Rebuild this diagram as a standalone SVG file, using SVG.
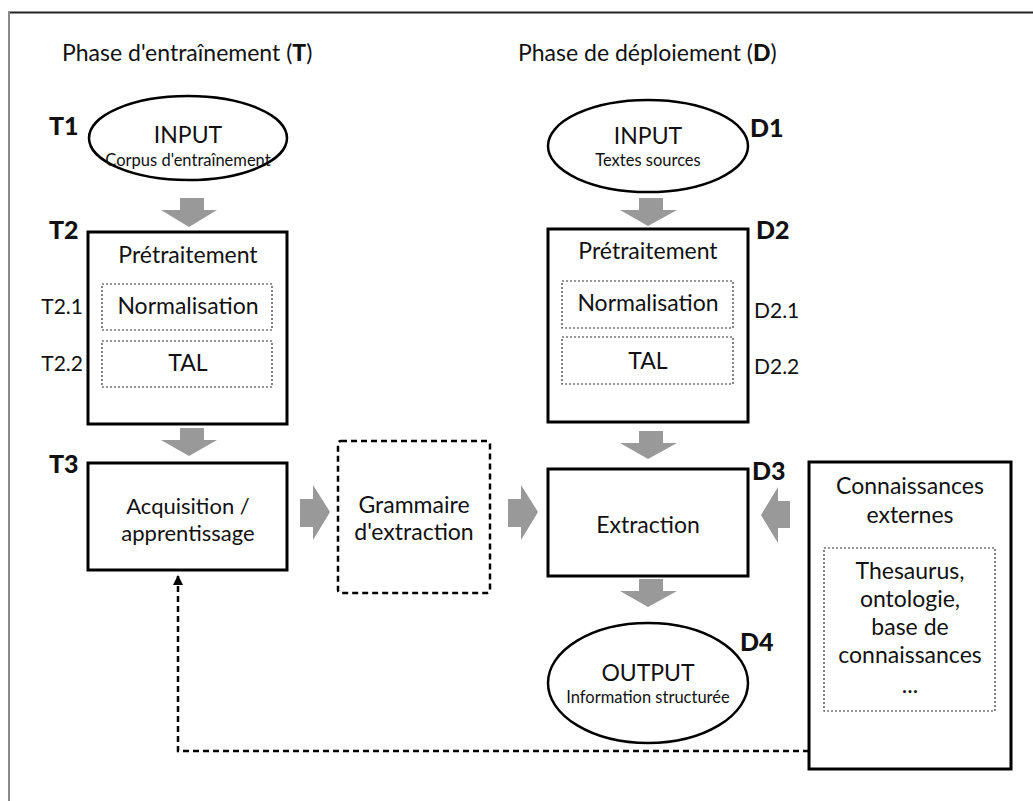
<svg xmlns="http://www.w3.org/2000/svg" width="1033" height="801" viewBox="0 0 1033 801">
<defs>
<marker id="ah" viewBox="0 0 10 10" refX="9" refY="5" markerWidth="4" markerHeight="4" orient="auto-start-reverse" markerUnits="strokeWidth">
<path d="M0,0 L10,5 L0,10 z" fill="#000"/>
</marker>
<style>
text{font-family:"Lato","Open Sans","DejaVu Sans",sans-serif;fill:#111;}
.t{font-size:23px;}
.m{font-size:23px;text-anchor:middle;}
.m2{font-size:22px;text-anchor:middle;}
.s{font-size:16.5px;text-anchor:middle;}
.b{font-size:25px;font-weight:900;}
.lbl{font-size:21px;}
.box{fill:#fff;stroke:#000;stroke-width:3;}
.dot{fill:none;stroke:#333;stroke-width:1.2;stroke-dasharray:2,2;}
.garr{fill:#999;}
</style>
</defs>
<rect width="1033" height="801" fill="#fff"/>
<line x1="8" y1="12.5" x2="1033" y2="12.5" stroke="#222" stroke-width="2"/>
<line x1="9" y1="12" x2="9" y2="801" stroke="#888" stroke-width="2"/>

<text class="t" x="62" y="61">Phase d'entraînement (<tspan font-weight="900">T</tspan>)</text>
<text class="t" x="518" y="61">Phase de déploiement (<tspan font-weight="900">D</tspan>)</text>

<g id="connectors">
<path class="garr" d="M180,198 H204 V210 H217 L189,227 L161,210 H180 z"/>
<path class="garr" d="M180,428 H204 V440 H217 L189,456 L161,440 H180 z"/>
<path class="garr" d="M639,198 H663 V210 H677 L648,226 L620,210 H639 z"/>
<path class="garr" d="M639,431 H663 V443 H677 L648,459 L620,443 H639 z"/>
<path class="garr" d="M639,579 H663 V591 H677 L648,607 L620,591 H639 z"/>
<path class="garr" d="M300,499 H313 V485 L330,512 L313,540 V527 H300 z"/>
<path class="garr" d="M508,499 H521 V485 L538,512 L521,540 V527 H508 z"/>
<path class="garr" d="M790,501 H778 V487 L761,515 L778,543 V528 H790 z"/>
<path d="M809,751 H178 V576" fill="none" stroke="#000" stroke-width="2.5" stroke-dasharray="6,4" marker-end="url(#ah)"/>
</g>

<g id="T1">
<ellipse cx="188" cy="138" rx="99" ry="42" fill="#fff" stroke="#000" stroke-width="2.5"/>
<text class="m" x="188" y="143">INPUT</text>
<text class="s" x="188" y="166">Corpus d'entraînement</text>
<text class="b" x="49" y="135">T1</text>
</g>

<g id="T2">
<rect class="box" x="88" y="232" width="199" height="192"/>
<text class="m" x="188" y="263">Prétraitement</text>
<text class="b" x="49" y="239">T2</text>
</g>
<g id="T2.1">
<rect class="dot" x="102" y="284" width="170" height="46"/>
<text class="m" x="188" y="314">Normalisation</text>
<text class="lbl" x="83" y="314" text-anchor="end">T2.1</text>
</g>
<g id="T2.2">
<rect class="dot" x="102" y="341" width="170" height="46"/>
<text class="m" x="188" y="371">TAL</text>
<text class="lbl" x="83" y="371" text-anchor="end">T2.2</text>
</g>

<g id="T3">
<rect class="box" x="88" y="463" width="199" height="107"/>
<text class="m2" x="188" y="514">Acquisition /</text>
<text class="m2" x="188" y="541">apprentissage</text>
<text class="b" x="49" y="473">T3</text>
</g>

<g id="grammaire">
<rect x="338" y="441" width="152" height="152" rx="3" fill="#fff" stroke="#000" stroke-width="2.5" stroke-dasharray="6,4"/>
<text class="m" x="414" y="513">Grammaire</text>
<text class="m" x="414" y="540">d'extraction</text>
</g>

<g id="D1">
<ellipse cx="648" cy="146" rx="100" ry="46" fill="#fff" stroke="#000" stroke-width="2.5"/>
<text class="m" x="648" y="144">INPUT</text>
<text class="s" x="648" y="166">Textes sources</text>
<text class="b" x="750" y="137">D1</text>
</g>

<g id="D2">
<rect class="box" x="548" y="229" width="200" height="193"/>
<text class="m" x="648" y="259">Prétraitement</text>
<text class="b" x="756" y="239">D2</text>
</g>
<g id="D2.1">
<rect class="dot" x="562" y="281" width="171" height="47"/>
<text class="m" x="648" y="311">Normalisation</text>
<text class="lbl" x="754" y="318">D2.1</text>
</g>
<g id="D2.2">
<rect class="dot" x="562" y="337" width="171" height="47"/>
<text class="m" x="648" y="369">TAL</text>
<text class="lbl" x="754" y="374">D2.2</text>
</g>

<g id="D3">
<rect class="box" x="548" y="469" width="200" height="107"/>
<text class="m" x="648" y="533">Extraction</text>
<text class="b" x="752" y="480">D3</text>
</g>

<g id="D4">
<ellipse cx="648" cy="683" rx="100" ry="60" fill="#fff" stroke="#000" stroke-width="2.5"/>
<text class="m" x="648" y="681">OUTPUT</text>
<text class="s" x="648" y="703">Information structurée</text>
<text class="b" x="740" y="651">D4</text>
</g>

<g id="connaissances">
<rect class="box" x="809" y="462" width="202" height="307"/>
<text class="m" x="910" y="494">Connaissances</text>
<text class="m" x="910" y="523">externes</text>
<rect class="dot" x="824" y="548" width="171" height="163"/>
<text class="m" x="910" y="579">Thesaurus,</text>
<text class="m" x="910" y="607">ontologie,</text>
<text class="m" x="910" y="635">base de</text>
<text class="m" x="910" y="663">connaissances</text>
<text class="m" x="910" y="693">...</text>
</g>
</svg>
